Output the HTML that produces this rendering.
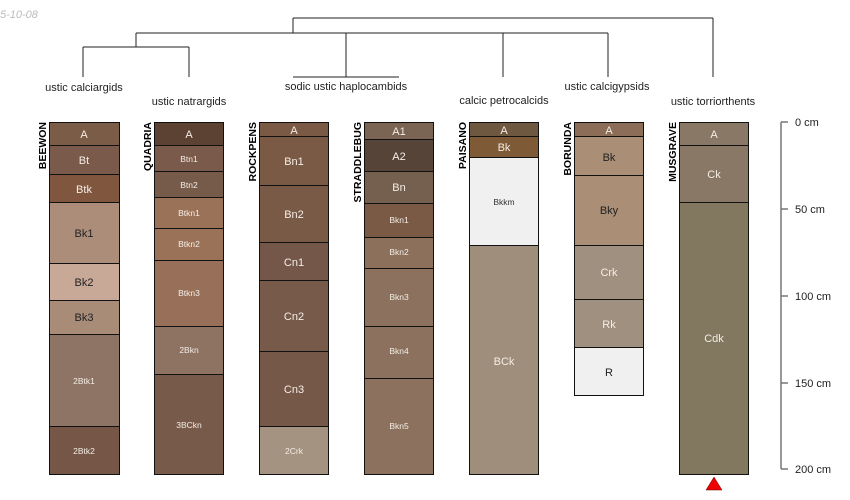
<!DOCTYPE html>
<html><head><meta charset="utf-8"><style>body{margin:0;background:#fff}svg{display:block}</style></head>
<body>
<svg width="850" height="500" xmlns="http://www.w3.org/2000/svg" font-family="Liberation Sans, sans-serif">
<text x="0" y="18" font-size="11" font-style="italic" fill="#bbb">5-10-08</text>
<g stroke="#222" stroke-width="1" fill="none">
<path d="M293 18H713M293 18V33M713 18V77"/>
<path d="M136 33H608M136 33V47M83 47H189M83 47V77M189 47V77"/>
<path d="M346 33V77M293 77H399M503 33V77M608 33V77"/>
</g>
<g font-size="11" fill="#222" text-anchor="middle">
<text x="84" y="91">ustic calciargids</text>
<text x="189" y="105">ustic natrargids</text>
<text x="346" y="90">sodic ustic haplocambids</text>
<text x="504" y="104">calcic petrocalcids</text>
<text x="607" y="90">ustic calcigypsids</text>
<text x="713" y="105">ustic torriorthents</text>
</g>
<g font-size="10.5" font-weight="bold" fill="#000" text-anchor="end">
<text transform="translate(46,122) rotate(-90)">BEEWON</text>
<text transform="translate(151,122) rotate(-90)">QUADRIA</text>
<text transform="translate(256,122) rotate(-90)">ROCKPENS</text>
<text transform="translate(361,122) rotate(-90)">STRADDLEBUG</text>
<text transform="translate(466,122) rotate(-90)">PAISANO</text>
<text transform="translate(571,122) rotate(-90)">BORUNDA</text>
<text transform="translate(676,122) rotate(-90)">MUSGRAVE</text>
</g>
<g stroke="#111" stroke-width="1" font-size="10" text-anchor="middle">
<rect x="49.5" y="122.5" width="70" height="23" fill="#7a5c47"/>
<rect x="49.5" y="145.5" width="70" height="29" fill="#7a5a4a"/>
<rect x="49.5" y="174.5" width="70" height="28" fill="#80573e"/>
<rect x="49.5" y="202.5" width="70" height="61" fill="#ac8d7a"/>
<rect x="49.5" y="263.5" width="70" height="37" fill="#c8a896"/>
<rect x="49.5" y="300.5" width="70" height="34" fill="#a98c78"/>
<rect x="49.5" y="334.5" width="70" height="92" fill="#8e7464"/>
<rect x="49.5" y="426.5" width="70" height="48" fill="#765747"/>
<rect x="154.5" y="122.5" width="69" height="23" fill="#5c4232"/>
<rect x="154.5" y="145.5" width="69" height="26" fill="#7a5a4a"/>
<rect x="154.5" y="171.5" width="69" height="26" fill="#765a4a"/>
<rect x="154.5" y="197.5" width="69" height="31" fill="#9a7258"/>
<rect x="154.5" y="228.5" width="69" height="32" fill="#9a7258"/>
<rect x="154.5" y="260.5" width="69" height="66" fill="#98705a"/>
<rect x="154.5" y="326.5" width="69" height="48" fill="#8e7262"/>
<rect x="154.5" y="374.5" width="69" height="100" fill="#785a4a"/>
<rect x="259.5" y="122.5" width="69" height="14" fill="#7a5a45"/>
<rect x="259.5" y="136.5" width="69" height="49" fill="#7a5a45"/>
<rect x="259.5" y="185.5" width="69" height="57" fill="#785a46"/>
<rect x="259.5" y="242.5" width="69" height="38" fill="#75574a"/>
<rect x="259.5" y="280.5" width="69" height="71" fill="#785a4a"/>
<rect x="259.5" y="351.5" width="69" height="75" fill="#765848"/>
<rect x="259.5" y="426.5" width="69" height="48" fill="#a39380"/>
<rect x="364.5" y="122.5" width="69" height="17" fill="#7a6454"/>
<rect x="364.5" y="139.5" width="69" height="32" fill="#574438"/>
<rect x="364.5" y="171.5" width="69" height="32" fill="#75604f"/>
<rect x="364.5" y="203.5" width="69" height="34" fill="#7a5a45"/>
<rect x="364.5" y="237.5" width="69" height="31" fill="#8c705c"/>
<rect x="364.5" y="268.5" width="69" height="58" fill="#8c725e"/>
<rect x="364.5" y="326.5" width="69" height="52" fill="#8c725e"/>
<rect x="364.5" y="378.5" width="69" height="96" fill="#8c725e"/>
<rect x="469.5" y="122.5" width="69" height="14" fill="#6e5840"/>
<rect x="469.5" y="136.5" width="69" height="21" fill="#7f5a36"/>
<rect x="469.5" y="157.5" width="69" height="88" fill="#f0f0f0"/>
<rect x="469.5" y="245.5" width="69" height="229" fill="#a08e7c"/>
<rect x="574.5" y="122.5" width="69" height="14" fill="#8c6e58"/>
<rect x="574.5" y="136.5" width="69" height="39" fill="#aa8e76"/>
<rect x="574.5" y="175.5" width="69" height="70" fill="#aa8e76"/>
<rect x="574.5" y="245.5" width="69" height="54" fill="#a09080"/>
<rect x="574.5" y="299.5" width="69" height="48" fill="#a09080"/>
<rect x="574.5" y="347.5" width="69" height="48" fill="#f0f0f0"/>
<rect x="679.5" y="122.5" width="69" height="23" fill="#8a7866"/>
<rect x="679.5" y="145.5" width="69" height="57" fill="#8a7866"/>
<rect x="679.5" y="202.5" width="69" height="272" fill="#827860"/>
</g>
<g font-size="11" text-anchor="middle" fill="#f4ede6">
<text x="84" y="138">A</text><text x="84" y="164">Bt</text><text x="84" y="193">Btk</text>
<text x="84" y="237" fill="#222">Bk1</text><text x="84" y="286" fill="#222">Bk2</text><text x="84" y="321" fill="#222">Bk3</text>
<text x="84" y="384" font-size="8.5">2Btk1</text><text x="84" y="454" font-size="8.5">2Btk2</text>
<text x="189" y="138">A</text><text x="189" y="162" font-size="8.5">Btn1</text><text x="189" y="188" font-size="8.5">Btn2</text>
<text x="189" y="216" font-size="8.5">Btkn1</text><text x="189" y="247" font-size="8.5">Btkn2</text><text x="189" y="296" font-size="8.5">Btkn3</text>
<text x="189" y="353" font-size="8.5">2Bkn</text><text x="189" y="428" font-size="8.5">3BCkn</text>
<text x="294" y="134">A</text><text x="294" y="165">Bn1</text><text x="294" y="218">Bn2</text>
<text x="294" y="266">Cn1</text><text x="294" y="320">Cn2</text><text x="294" y="393">Cn3</text><text x="294" y="454" font-size="8.5">2Crk</text>
<text x="399" y="135">A1</text><text x="399" y="160">A2</text><text x="399" y="191">Bn</text>
<text x="399" y="223" font-size="8.5">Bkn1</text><text x="399" y="255" font-size="8.5">Bkn2</text><text x="399" y="300" font-size="8.5">Bkn3</text>
<text x="399" y="354" font-size="8.5">Bkn4</text><text x="399" y="429" font-size="8.5">Bkn5</text>
<text x="504" y="134">A</text><text x="504" y="151">Bk</text><text x="504" y="205" font-size="8.5" fill="#333">Bkkm</text><text x="504" y="365">BCk</text>
<text x="609" y="134">A</text><text x="609" y="161" fill="#222">Bk</text><text x="609" y="214" fill="#222">Bky</text>
<text x="609" y="276">Crk</text><text x="609" y="328">Rk</text><text x="609" y="376" fill="#222">R</text>
<text x="714" y="138">A</text><text x="714" y="178">Ck</text><text x="714" y="342">Cdk</text>
</g>
<g stroke="#777" stroke-width="1.5" fill="none">
<path d="M781 122V469M781 122H788M781 209H788M781 296H788M781 383H788M781 469H788"/>
</g>
<g font-size="11" fill="#222">
<text x="795" y="126">0 cm</text><text x="795" y="213">50 cm</text><text x="795" y="300">100 cm</text>
<text x="795" y="387">150 cm</text><text x="795" y="473">200 cm</text>
</g>
<polygon points="714,477 706,490 722,490" fill="#e00" stroke="#600" stroke-width="0.5"/>
</svg>
</body></html>
